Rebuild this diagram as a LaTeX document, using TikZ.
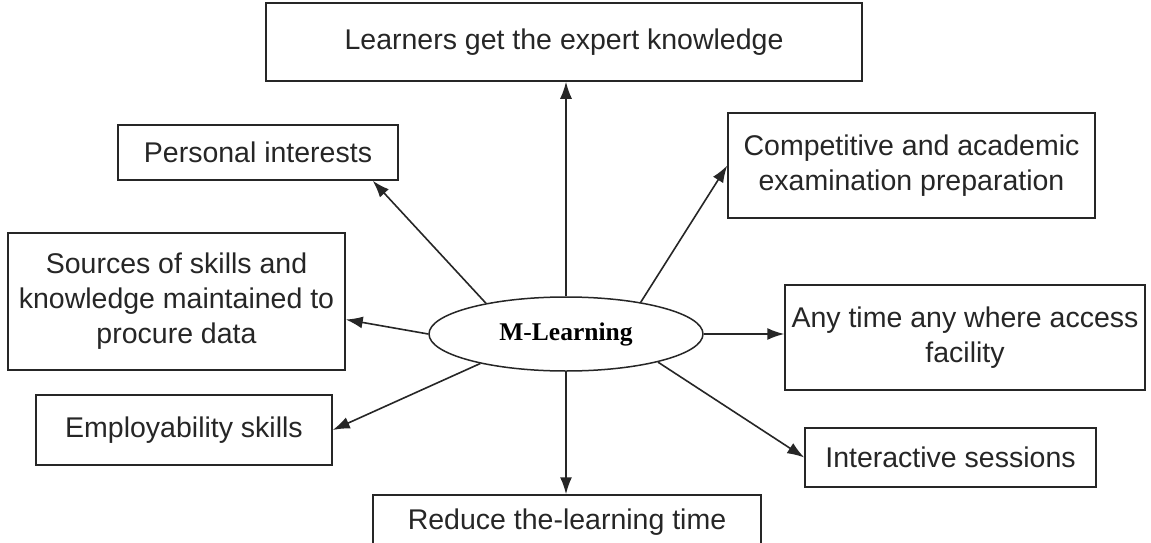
\documentclass[tikz,border=0pt]{standalone}
\usepackage{fontspec}
\setmainfont{Liberation Sans}
\newfontfamily\serifbold{Liberation Serif}
\usetikzlibrary{shapes.geometric,arrows.meta}
\definecolor{ink}{HTML}{262626}
\tikzset{
  box/.style={draw=ink, line width=1.5pt, rectangle, inner sep=0pt, align=center,
    text=ink, font=\fontsize{28.5}{35}\selectfont},
  hub/.style={draw=ink, line width=1.5pt, ellipse, inner sep=0pt,
    minimum width=274pt, minimum height=74pt, text=black,
    font=\serifbold\bfseries\fontsize{25.5}{28}\selectfont},
  arr/.style={draw=ink, line width=1.6pt, -{Latex[length=17pt,width=12pt]}}
}
\begin{document}
\begin{tikzpicture}[x=1pt,y=-1pt]
\useasboundingbox (0,0) rectangle (1151,543);
\fill[white] (0,0) rectangle (1151,543);

% central hub
\node[hub] (m) at (566,334) {M{\mdseries-}Learning};

% surrounding boxes
\node[box, minimum width=596pt, minimum height=78pt] (top) at (564,42) {Learners get the expert knowledge};
\node[box, minimum width=280pt, minimum height=55pt] (pers) at (258,152.5) {Personal interests};
\node[box, minimum width=367pt, minimum height=105pt] (comp) at (911.5,165.5) {Competitive and academic\\examination preparation};
\node[box, minimum width=337pt, minimum height=137pt] (src) at (176.5,301.5) {Sources of skills and\\knowledge maintained to\\procure data};
\node[box, minimum width=360pt, minimum height=105pt] (any) at (965,337.5) {Any time any where access\\facility};
\node[box, minimum width=296pt, minimum height=70pt] (emp) at (184,430) {Employability skills};
\node[box, minimum width=291pt, minimum height=59pt] (int) at (950.5,457.5) {Interactive sessions};
\node[box, minimum width=388pt, minimum height=70pt] (red) at (567,530) {};
\node[text=ink, font=\fontsize{28.5}{35}\selectfont, anchor=base] (redt) at (567,529) {Reduce the-learning time};

% connectors
\draw[arr] (m.north) -- (m.north |- top.south);
\draw[arr] (m.159) -- ([xshift=-26pt]pers.south east);
\draw[arr] (m.23) -- (comp.west);
\draw[arr] (m.west) -- ([yshift=-18pt]src.east);
\draw[arr] (m.east) -- (m.east -| any.west);
\draw[arr] (m.199) -- (emp.east);
\draw[arr] (m.-17) -- (int.west);
\draw[arr] (m.south) -- (m.south |- red.north);
\end{tikzpicture}
\end{document}
